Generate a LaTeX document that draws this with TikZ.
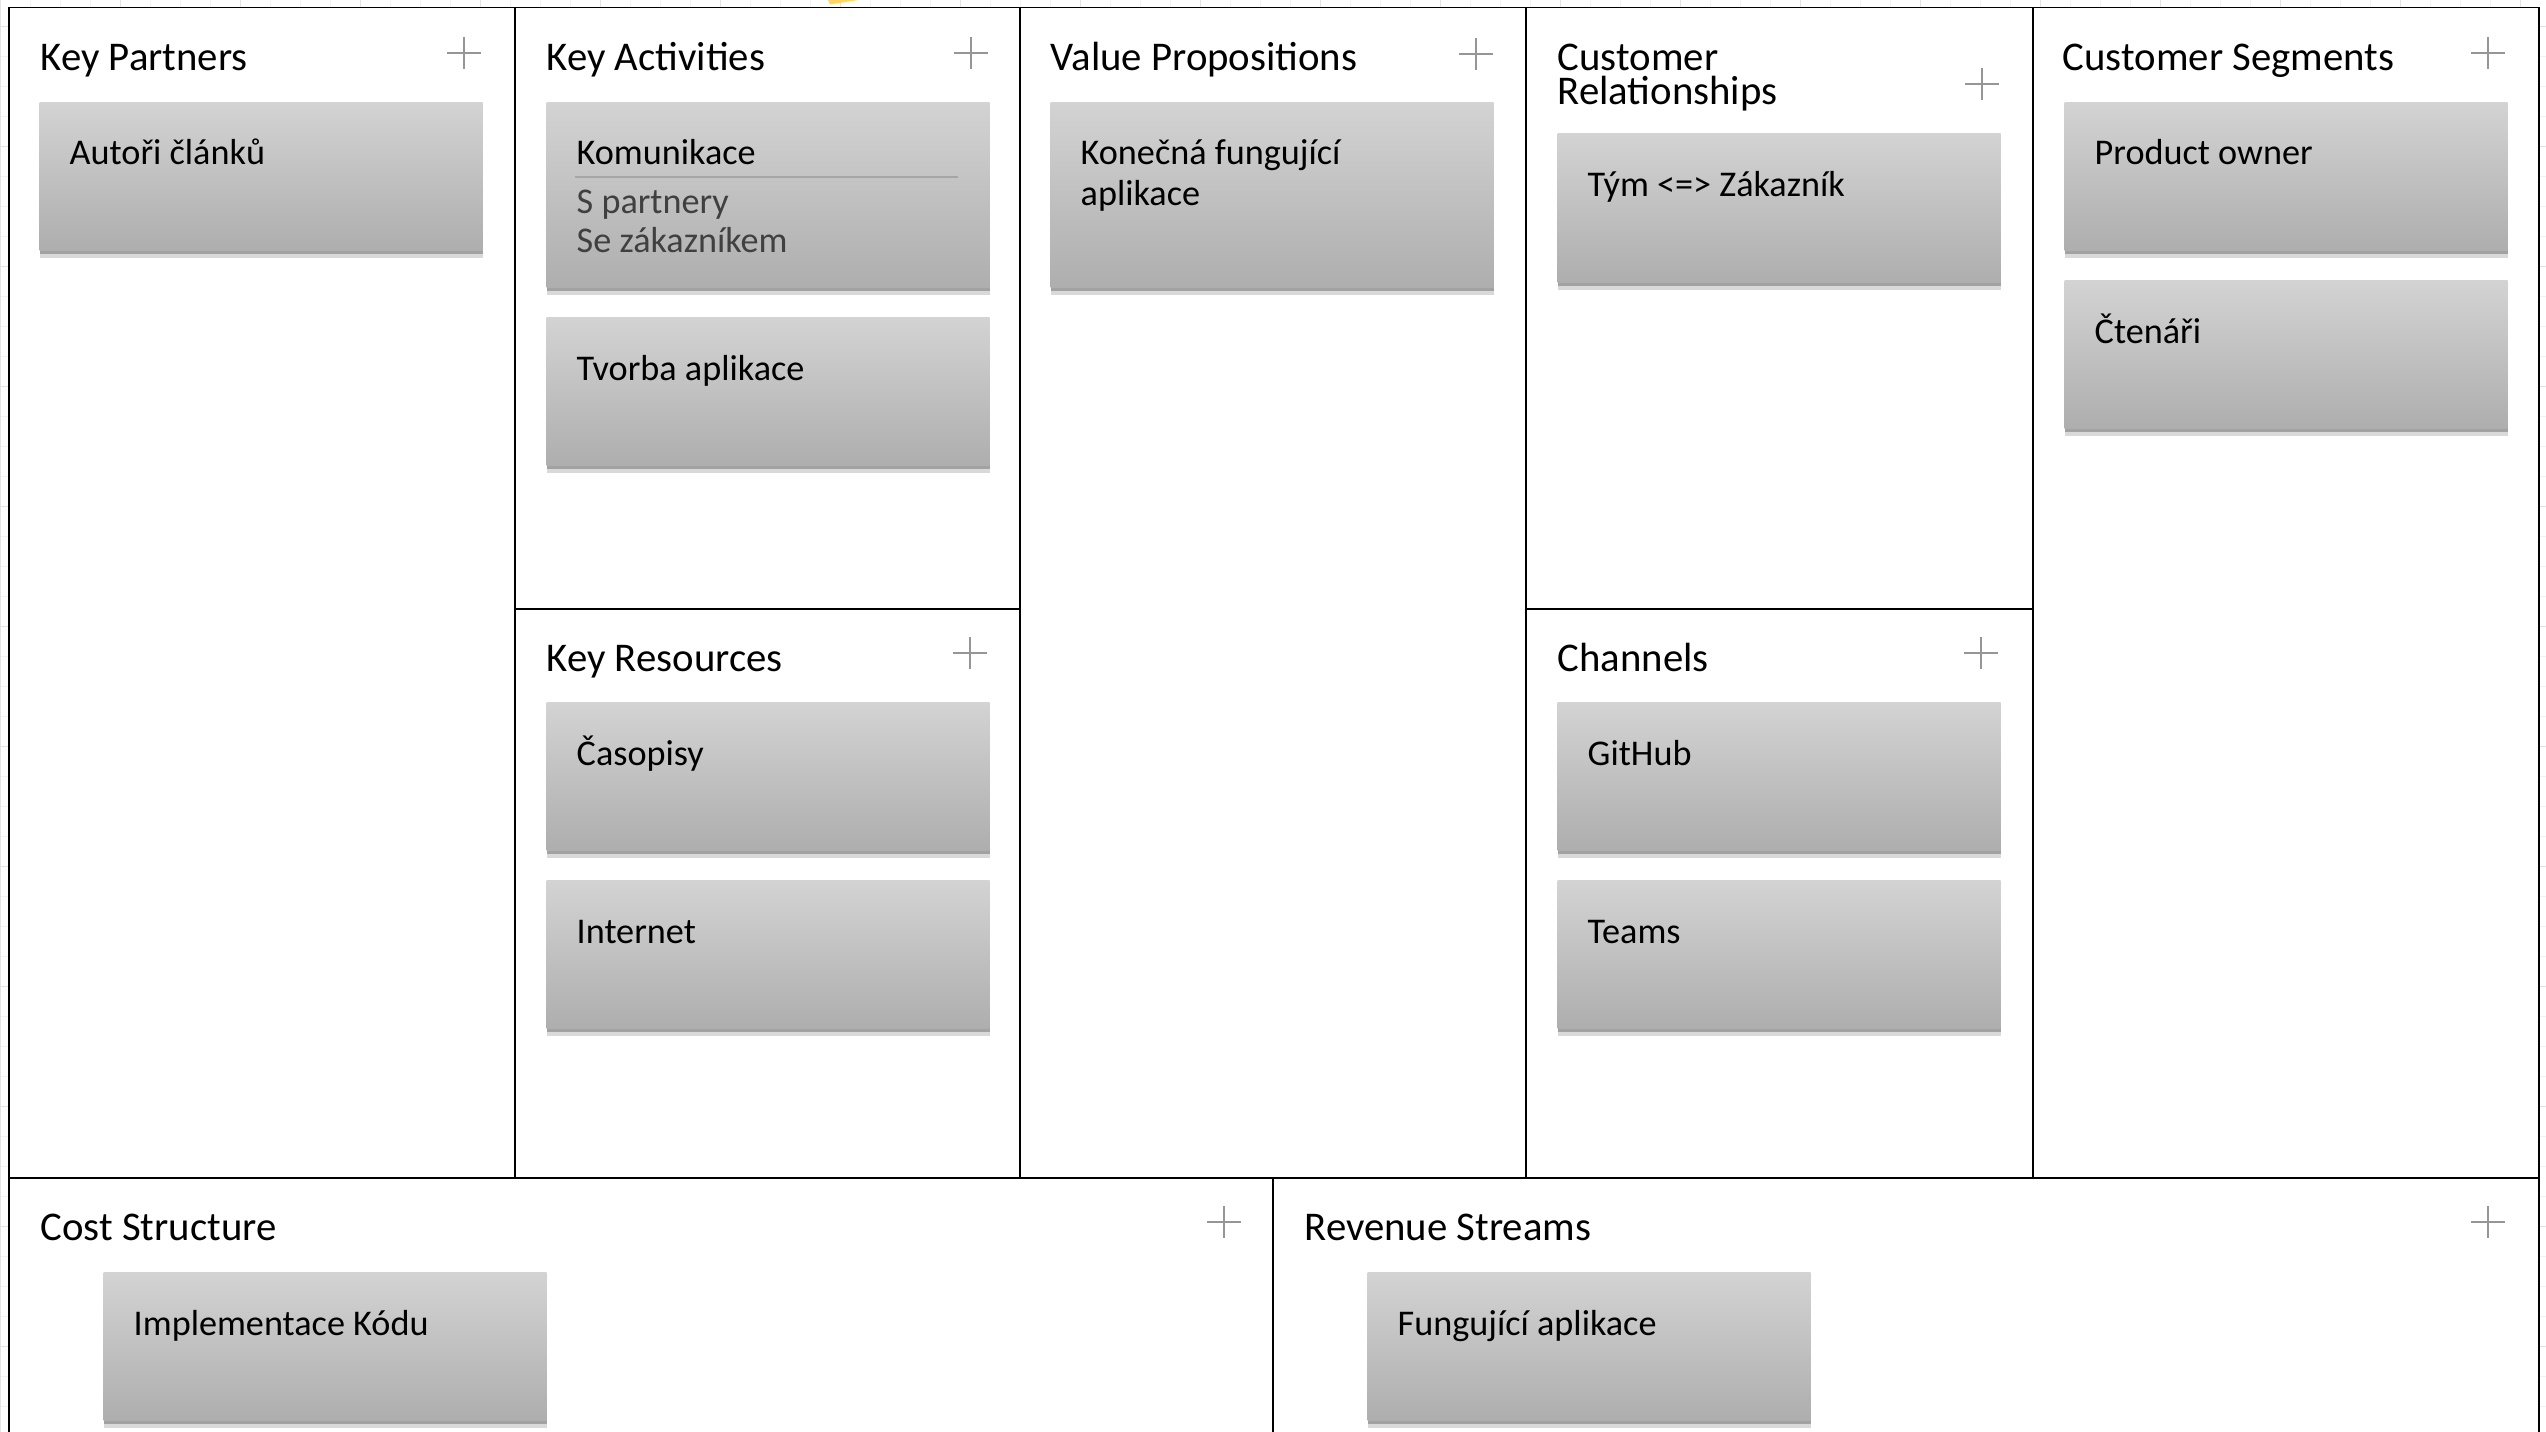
\documentclass[tikz,border=0pt]{standalone}
\usepackage{fontspec}
\setmainfont{Carlito}
\usetikzlibrary{shadows}

\definecolor{cardtop}{RGB}{211,211,211}
\definecolor{cardbot}{RGB}{174,174,174}
\definecolor{plusgray}{RGB}{150,150,150}
\definecolor{gridminor}{RGB}{243,243,243}
\definecolor{gridmajor}{RGB}{228,228,228}
\definecolor{subgray}{RGB}{64,64,64}
\definecolor{notey}{RGB}{255,214,102}

\tikzset{
  card/.style={anchor=north west, minimum width=4.43cm, minimum height=1.48cm,
    inner sep=0pt, top color=cardtop, bottom color=cardbot,
    drop shadow={shadow xshift=0cm, shadow yshift=-0.07cm, opacity=0.15, fill=black},
    drop shadow={shadow xshift=0cm, shadow yshift=-0.035cm, opacity=0.25, fill=black}},
  cardtext/.style={anchor=base west, inner sep=0pt, align=left,
    font=\fontsize{10.3}{11.7}\selectfont},
  subtext/.style={cardtext, text=subgray},
  blocktitle/.style={anchor=base west, inner sep=0pt, align=left,
    font=\fontsize{11.6}{9.7}\selectfont},
  frameline/.style={line width=0.5pt},
  plusline/.style={draw=plusgray, line width=0.6pt}
}

\begin{document}
\begin{tikzpicture}
\clip (0,0) rectangle (25.46,-14.32);

% background grid
\foreach \i in {0,...,84}
  \draw[gridminor, line width=0.3pt] ({0.007+0.3*\i},0) -- ({0.007+0.3*\i},-14.32);
\foreach \j in {0,...,47}
  \draw[gridminor, line width=0.3pt] (0,{-0.267-0.3*\j}) -- (25.46,{-0.267-0.3*\j});
\foreach \i in {0,...,21}
  \draw[gridmajor, line width=0.3pt] ({0.007+1.2*\i},0) -- ({0.007+1.2*\i},-14.32);
\foreach \j in {0,...,11}
  \draw[gridmajor, line width=0.3pt] (0,{-0.267-1.2*\j}) -- (25.46,{-0.267-1.2*\j});
\fill[notey] (8.28,0) -- (8.58,0) -- (8.30,-0.045) -- cycle;

% canvas frame
\fill[white] (0.087,-0.075) rectangle (25.39,-14.6);
\draw[frameline] (0.087,-14.6) -- (0.087,-0.075) -- (25.39,-0.075) -- (25.39,-14.6);
\foreach \x in {5.15,10.20,15.26,20.33}
  \draw[frameline] (\x,-0.075) -- (\x,-11.777);
\draw[frameline] (5.15,-6.09) -- (10.20,-6.09);
\draw[frameline] (15.26,-6.09) -- (20.33,-6.09);
\draw[frameline] (0.087,-11.777) -- (25.39,-11.777);
\draw[frameline] (12.73,-11.777) -- (12.73,-14.6);

% block titles (base of a two-line node is its last line)
\node[blocktitle] (kp) at (0.40,-0.71) {Key Partners};
\node[blocktitle] (ka) at (5.46,-0.71) {Key Activities};
\node[blocktitle] (vp) at (10.50,-0.71) {Value Propositions};
\node[blocktitle] (cr) at (15.57,-1.05) {Customer\\Relationships};
\node[blocktitle] (cs) at (20.62,-0.71) {Customer Segments};
\node[blocktitle] (kr) at (5.46,-6.71) {Key Resources};
\node[blocktitle] (ch) at (15.57,-6.71) {Channels};
\node[blocktitle] (cost) at (0.40,-12.40) {Cost Structure};
\node[blocktitle] (rev) at (13.04,-12.40) {Revenue Streams};

% plus signs
\foreach \px/\py in {4.64/0.53, 9.71/0.53, 14.76/0.54, 19.82/0.84, 24.88/0.53,
                     9.70/6.53, 19.81/6.53, 12.24/12.22, 24.88/12.22}
  \draw[plusline] (\px-0.17,-\py) -- (\px+0.17,-\py)
                  (\px,-\py+0.16) -- (\px,-\py-0.16);

% cards
\node[card] (kp1) at (0.39,-1.02) {};
\node[card, minimum height=1.85cm] (ka1) at (5.46,-1.02) {};
\node[card] (ka2) at (5.46,-3.17) {};
\node[card, minimum height=1.85cm] (vp1) at (10.50,-1.02) {};
\node[card, minimum height=1.49cm] (cr1) at (15.57,-1.33) {};
\node[card] (cs1) at (20.64,-1.02) {};
\node[card] (cs2) at (20.64,-2.80) {};
\node[card] (kr1) at (5.46,-7.02) {};
\node[card] (kr2) at (5.46,-8.80) {};
\node[card] (ch1) at (15.57,-7.02) {};
\node[card] (ch2) at (15.57,-8.80) {};
\node[card] (cost1) at (1.03,-12.72) {};
\node[card] (rev1) at (13.67,-12.72) {};

% card texts
\foreach \c/\t in {kp1/Autoři článků, ka1/Komunikace, ka2/Tvorba aplikace,
                   cr1/Tým <=> Zákazník,
                   cs1/Product owner, cs2/Čtenáři, kr1/Časopisy, kr2/Internet,
                   ch1/GitHub, ch2/Teams, cost1/Implementace Kódu,
                   rev1/Fungující aplikace}
  \node[cardtext] (\c-txt) at ([shift={(0.30,-0.63)}]\c.north west) {\t};
\node[cardtext] (vp1-txt) at ([shift={(0.30,-1.04)}]vp1.north west) {Konečná fungující\\aplikace};

% sub items of Komunikace
\draw[draw=black!35, line width=0.35pt] ([shift={(0.29,-0.75)}]ka1.north west) -- ([shift={(4.12,-0.75)}]ka1.north west);
\node[subtext] (ka1-a) at ([shift={(0.30,-1.11)}]ka1.north west) {S partnery};
\node[subtext] (ka1-b) at ([shift={(0.30,-1.50)}]ka1.north west) {Se zákazníkem};

\end{tikzpicture}
\end{document}
